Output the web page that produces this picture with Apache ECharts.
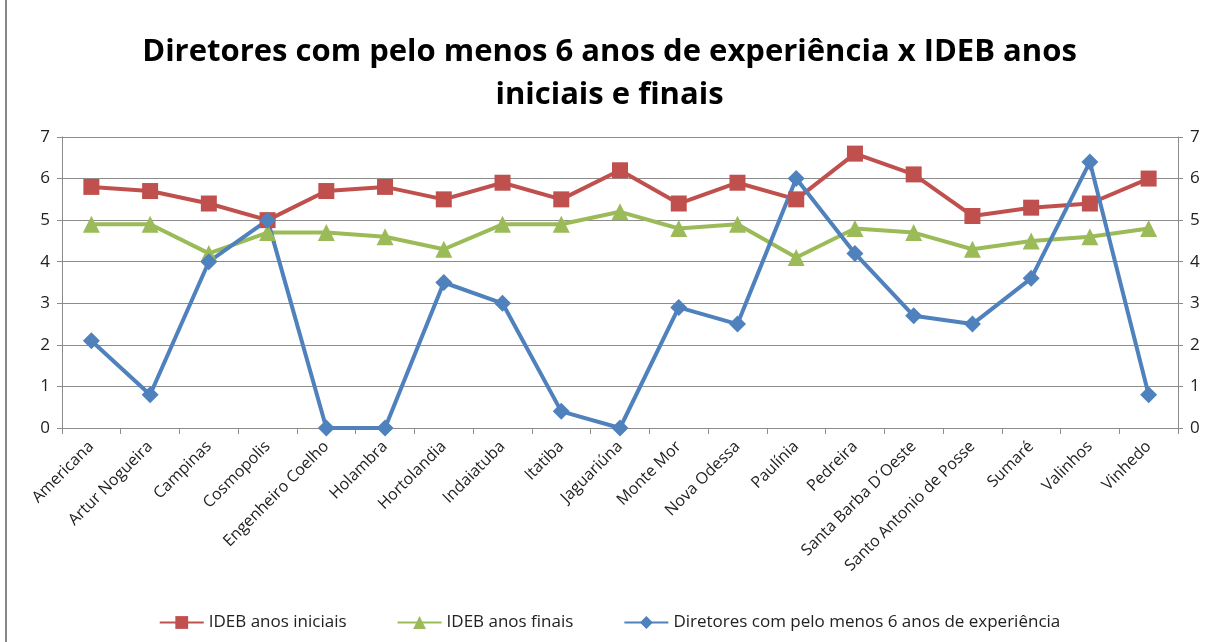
<!DOCTYPE html>
<html>
<head>
<meta charset="utf-8">
<script src="https://cdn.jsdelivr.net/npm/echarts@6/dist/echarts.min.js"></script>
<style>
  html, body { margin: 0; padding: 0; background: #fff; }
  #chart { width: 1219px; height: 642px; }
</style>
</head>
<body>
<div id="chart"></div>
<script>
const municipios = [
  'Americana', 'Artur Nogueira', 'Campinas', 'Cosmopolis', 'Engenheiro Coelho',
  'Holambra', 'Hortolandia', 'Indaiatuba', 'Itatiba', 'Jaguariúna', 'Monte Mor',
  'Nova Odessa', 'Paulínia', 'Pedreira', 'Santa Barba D´Oeste',
  'Santo Antonio de Posse', 'Sumaré', 'Valinhos', 'Vinhedo'
]
const idebIniciais = [5.8, 5.7, 5.4, 5.0, 5.7, 5.8, 5.5, 5.9, 5.5, 6.2, 5.4, 5.9, 5.5, 6.6, 6.1, 5.1, 5.3, 5.4, 6.0]
const idebFinais = [4.9, 4.9, 4.2, 4.7, 4.7, 4.6, 4.3, 4.9, 4.9, 5.2, 4.8, 4.9, 4.1, 4.8, 4.7, 4.3, 4.5, 4.6, 4.8]
const diretores = [2.1, 0.8, 4.0, 5.0, 0, 0, 3.5, 3.0, 0.4, 0, 2.9, 2.5, 6.0, 4.2, 2.7, 2.5, 3.6, 6.4, 0.8]
const yTicks = [0, 1, 2, 3, 4, 5, 6, 7]

const font = 'Open Sans'
const gridColor = '#8c8c8c'

const yAxisBase = (pos) => ({
  type: 'value',
  position: pos,
  min: yTicks[0],
  max: yTicks[yTicks.length - 1],
  interval: 1,
  axisLine: { show: true, lineStyle: { color: gridColor } },
  axisTick: { show: true, length: 5, lineStyle: { color: gridColor } },
  splitLine: { show: pos === 'left', lineStyle: { color: gridColor, width: 1 } },
  axisLabel: { color: '#222', fontSize: 17, fontFamily: font, margin: 12 }
})

const lineSeries = (name, data, color, symbol, size, yIdx) => ({
  name,
  type: 'line',
  data,
  yAxisIndex: yIdx,
  symbol,
  symbolSize: size,
  lineStyle: { color, width: 4 },
  itemStyle: { color },
  emphasis: { disabled: true }
})

const myChart = echarts.init(document.getElementById('chart'), null, { renderer: 'canvas' })
const option = {
  animation: false,
  backgroundColor: '#fff',
  title: {
    text: 'Diretores com pelo menos 6 anos de experiência x IDEB anos\niniciais e finais',
    left: 'center',
    top: 26,
    textStyle: { fontFamily: font, fontWeight: 'bold', fontSize: 31, lineHeight: 43, color: '#000' }
  },
  legend: {
    bottom: 6,
    left: 'center',
    itemWidth: 44,
    itemHeight: 16,
    itemGap: 50,
    textStyle: { fontFamily: font, fontSize: 17, color: '#222' },
    data: ['IDEB anos iniciais', 'IDEB anos finais', 'Diretores com pelo menos 6 anos de experiência']
  },
  grid: { left: 62, right: 41, top: 137, bottom: 214, containLabel: false },
  xAxis: {
    type: 'category',
    data: municipios,
    boundaryGap: true,
    axisLine: { show: true, lineStyle: { color: gridColor } },
    axisTick: { show: true, length: 6, inside: false, lineStyle: { color: gridColor } },
    axisLabel: { rotate: 45, interval: 0, color: '#222', fontSize: 16, fontFamily: font, margin: 16 }
  },
  yAxis: [yAxisBase('left'), yAxisBase('right')],
  series: [
    lineSeries('IDEB anos iniciais', idebIniciais, '#C0504D', 'rect', 16, 0),
    lineSeries('IDEB anos finais', idebFinais, '#9BBB59', 'triangle', 17, 0),
    lineSeries('Diretores com pelo menos 6 anos de experiência', diretores, '#4F81BD', 'diamond', 17, 1)
  ],
  graphic: [{
    type: 'rect',
    shape: { x: 6, y: -2, width: 1300, height: 700 },
    style: { fill: 'none', stroke: '#888', lineWidth: 2 },
    silent: true
  }]
}
myChart.setOption(option, true)
</script>
</body>
</html>
